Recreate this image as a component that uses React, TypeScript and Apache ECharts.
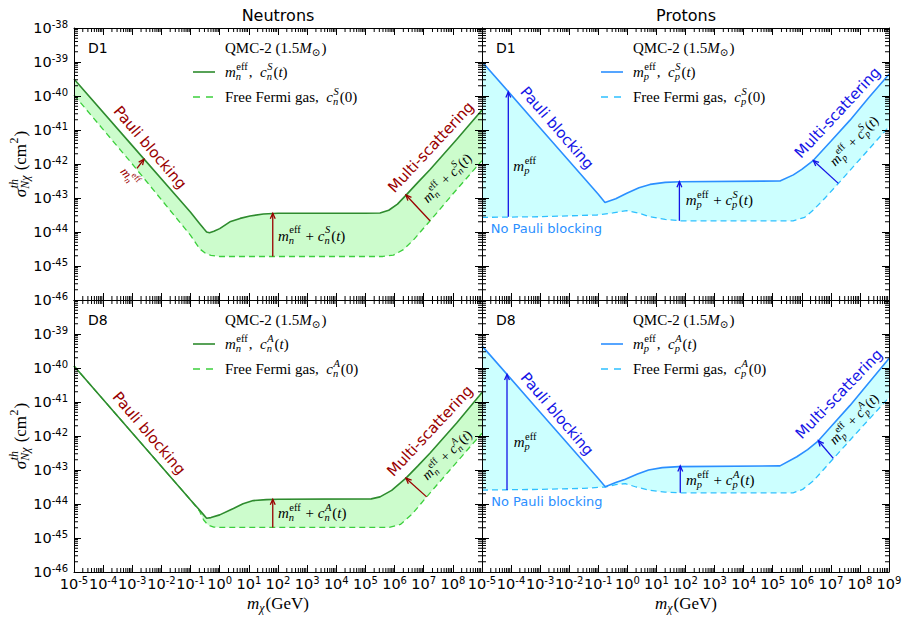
import React, { useEffect, useRef } from 'react';
import * as echarts from 'echarts';

// ---------- axes ----------
// x: log axis in GeV; y: value axis holding log10(sigma / cm^2)
const X_RANGE = [1e-5, 1e9];
const Y_EXP_RANGE = [-46, -38];
const X_DECADES = [-5, -4, -3, -2, -1, 0, 1, 2, 3, 4, 5, 6, 7, 8, 9];
const Y_DECADES = [-46, -45, -44, -43, -42, -41, -40, -39, -38];
const MINOR_MULT = [2, 3, 4, 5, 6, 7, 8, 9];

// ---------- curves: [log10 m_chi (GeV), log10 sigma (cm^2)] ----------
const N_D1_EFF = [[-5, -39.5], [-3, -41.46], [-1, -43.42], [-0.7, -43.74], [-0.55, -43.9], [-0.45, -44.0], [-0.35, -44.02], [-0.2, -43.98], [0, -43.9], [0.35, -43.7], [0.7, -43.6], [1.04, -43.53], [1.5, -43.47], [2, -43.45], [5, -43.45], [5.5, -43.44], [5.8, -43.36], [6.1, -43.18], [6.41, -42.9], [6.8, -42.54], [7.22, -42.16], [8.13, -41.28], [9, -40.41]];
const N_D1_FFG = [[-5, -39.97], [-3, -42.0], [-1, -44.1], [-0.68, -44.5], [-0.5, -44.62], [-0.3, -44.69], [0, -44.72], [5.6, -44.72], [5.96, -44.68], [6.3, -44.52], [6.64, -44.24], [7.22, -43.67], [8.02, -42.86], [9, -41.9]];
const N_D8_EFF = [[-5, -39.94], [-3, -41.91], [-1, -43.88], [-0.7, -44.17], [-0.55, -44.32], [-0.45, -44.42], [-0.3, -44.4], [0, -44.32], [0.47, -44.13], [0.8, -43.99], [1.15, -43.9], [1.6, -43.87], [2, -43.86], [5.2, -43.85], [5.5, -43.79], [5.9, -43.6], [6.39, -43.24], [6.8, -42.88], [7.22, -42.5], [8.13, -41.62], [9, -40.72]];
const N_D8_FFG = [[-5, -39.94], [-3, -41.91], [-1, -43.88], [-0.7, -44.2], [-0.55, -44.47], [-0.4, -44.62], [-0.2, -44.68], [0, -44.69], [5.8, -44.69], [6.2, -44.6], [6.6, -44.3], [7.1, -43.79], [7.9, -43.0], [8.7, -42.21], [9, -41.92]];
const P_D1_EFF = [[-5, -38.99], [-3, -40.94], [-1, -42.89], [-0.77, -43.13], [-0.4, -43.02], [-0.02, -42.86], [0.4, -42.7], [0.78, -42.6], [1.3, -42.54], [1.81, -42.52], [5.25, -42.5], [5.71, -42.32], [6.0, -42.16], [6.4, -41.89], [7.0, -41.33], [7.66, -40.71], [8.3, -40.05], [9, -39.36]];
const P_D1_FFG = [[-5, -43.57], [-3, -43.55], [-1.05, -43.5], [-0.5, -43.44], [-0.02, -43.37], [0.4, -43.45], [0.78, -43.55], [1.3, -43.63], [1.81, -43.67], [5.7, -43.67], [6.1, -43.57], [6.4, -43.35], [6.8, -43.0], [7.26, -42.57], [8, -41.86], [9, -40.9]];
const P_D8_EFF = [[-5, -39.35], [-3, -41.3], [-1, -43.25], [-0.76, -43.49], [-0.4, -43.37], [-0.07, -43.27], [0.35, -43.12], [0.73, -43.0], [1.2, -42.93], [1.77, -42.9], [5.25, -42.88], [5.83, -42.61], [6.2, -42.4], [6.57, -42.14], [7.0, -41.73], [7.66, -41.1], [8.3, -40.44], [9, -39.72]];
const P_D8_FFG = [[-5, -43.59], [-3, -43.57], [-1.5, -43.54], [-0.76, -43.5], [-0.4, -43.43], [-0.07, -43.4], [0.3, -43.5], [0.8, -43.6], [1.3, -43.65], [1.77, -43.67], [5.7, -43.67], [6.03, -43.57], [6.4, -43.32], [7.09, -42.66], [8, -41.8], [9, -40.87]];

// ---------- arrows: [log10 m1, log10 s1, log10 m2, log10 s2] (tail -> head) ----------
const N_D1_ARROWS = [[-2.84, -42.13, -2.6, -41.86], [1.82, -44.72, 1.82, -43.45], [7.216, -43.67, 6.39, -42.91]];
const N_D8_ARROWS = [[1.82, -44.69, 1.82, -43.86], [7.1, -43.79, 6.39, -43.24]];
const P_D1_ARROWS = [[-4.095, -43.55, -4.095, -39.88], [1.79, -43.67, 1.79, -42.52], [7.257, -42.57, 6.397, -41.9]];
const P_D8_ARROWS = [[-4.14, -43.59, -4.14, -40.19], [1.82, -43.67, 1.82, -42.88], [7.085, -42.66, 6.57, -42.14]];

// ---------- styles ----------
const SERIF = '"Liberation Serif", "DejaVu Serif", serif';
const SANS = '"DejaVu Sans", sans-serif';
const N_COL = { solid: '#2e8b2e', dash: '#3ccf3c', fill: '#ccfccc', note: '#990000' };
const P_COL = { solid: '#2b8fff', dash: '#2ec0ff', fill: '#ccffff', note: '#1414e6', noPauli: '#2b8fff' };
const ZG = 50;

type Tok = { t?: string; it?: boolean; sup?: string; sub?: string; supIt?: boolean; subIt?: boolean };

let mctx: CanvasRenderingContext2D | null = null;
function tw(s: string, size: number, it: boolean, fam: string) {
  if (!mctx) mctx = document.createElement('canvas').getContext('2d');
  mctx!.font = `${it ? 'italic ' : ''}${size}px ${fam}`;
  return mctx!.measureText(s).width;
}
function txt(s: string, x: number, y: number, size: number, it: boolean, color: string, fam: string) {
  return {
    type: 'text', x, y, z: ZG, silent: true,
    style: { text: s, fontSize: size, fontFamily: fam, fontStyle: it ? 'italic' : 'normal', fill: color, align: 'left', verticalAlign: 'middle' },
  };
}
function mathGroup(toks: Tok[], fs: number, color: string, x: number, y: number, center = false, rot = 0) {
  const ss = fs * 0.7;
  let cx = 0;
  const ch: any[] = [];
  for (const k of toks) {
    if (k.t !== undefined) {
      ch.push(txt(k.t, cx, 0, fs, !!k.it, color, SERIF));
      cx += tw(k.t, fs, !!k.it, SERIF);
    } else {
      let w = 0;
      if (k.sup) {
        ch.push(txt(k.sup, cx + 0.5, -0.37 * fs, ss, !!k.supIt, color, SERIF));
        w = Math.max(w, tw(k.sup, ss, !!k.supIt, SERIF) + 0.5);
      }
      if (k.sub) {
        ch.push(txt(k.sub, cx, 0.3 * fs, ss, !!k.subIt, color, SERIF));
        w = Math.max(w, tw(k.sub, ss, !!k.subIt, SERIF));
      }
      cx += w + 1;
    }
  }
  return {
    type: 'group', x, y, z: ZG, rotation: (rot * Math.PI) / 180, silent: true,
    children: [{ type: 'group', x: center ? -cx / 2 : 0, z: ZG, children: ch }],
  };
}
function sans(s: string, x: number, y: number, size: number, color: string, rot = 0, align = 'center') {
  return {
    type: 'text', x, y, z: ZG, rotation: (rot * Math.PI) / 180, silent: true,
    style: { text: s, fontSize: size, fontFamily: SANS, fill: color, align, verticalAlign: 'middle' },
  };
}

const effOnly = (s: string): Tok[] => [{ t: 'm', it: true }, { sup: 'eff', sub: s, subIt: true }];
const effPlus = (s: string, c: string): Tok[] => [
  { t: 'm', it: true }, { sup: 'eff', sub: s, subIt: true }, { t: ' + ' }, { t: 'c', it: true },
  { sup: c, sub: s, supIt: true, subIt: true }, { t: '(' }, { t: 't', it: true }, { t: ')' },
];
const legendEff = (s: string, c: string): Tok[] => [
  { t: 'm', it: true }, { sup: 'eff', sub: s, subIt: true }, { t: ',  ' }, { t: 'c', it: true },
  { sup: c, sub: s, supIt: true, subIt: true }, { t: '(' }, { t: 't', it: true }, { t: ')' },
];
const legendFfg = (s: string, c: string): Tok[] => [
  { t: 'Free Fermi gas,  ' }, { t: 'c', it: true }, { sup: c, sub: s, supIt: true, subIt: true }, { t: '(0)' },
];
const QMC: Tok[] = [{ t: 'QMC-2 (1.5' }, { t: 'M', it: true }, { sub: '\u2299' }, { t: ')' }];
const X_TITLE: Tok[] = [{ t: 'm', it: true }, { sub: '\u03c7', subIt: true }, { t: '(GeV)' }];
const Y_TITLE: Tok[] = [{ t: '\u03c3', it: true }, { sup: 'th', sub: 'N\u03c7', supIt: true, subIt: true }, { t: ' (cm' }, { sup: '2' }, { t: ')' }];

const X_MAJOR = X_DECADES.map((d) => Math.pow(10, d));
const X_MINOR = X_DECADES.slice(0, -1).flatMap((d) => MINOR_MULT.map((k) => k * Math.pow(10, d)));
const Y_MINOR = Y_DECADES.slice(0, -1).flatMap((d) => MINOR_MULT.map((k) => d + Math.log10(k)));

// a curve point: mass on the log x axis, log10(sigma) on the value y axis
const toPt = (p: number[]) => [Math.pow(10, p[0]), p[1]];

const PANELS = [
  { tag: 'D1', sp: 'n', ff: 'S', col: N_COL, grid: { left: 74, top: 28, width: 408, height: 272 }, solid: N_D1_EFF, dash: N_D1_FFG, arrows: N_D1_ARROWS, xLabels: [] as number[], yLabels: true, yMaxLabel: true },
  { tag: 'D1', sp: 'p', ff: 'S', col: P_COL, grid: { left: 482, top: 28, width: 407, height: 272 }, solid: P_D1_EFF, dash: P_D1_FFG, arrows: P_D1_ARROWS, xLabels: [] as number[], yLabels: false, yMaxLabel: false },
  { tag: 'D8', sp: 'n', ff: 'A', col: N_COL, grid: { left: 74, top: 300, width: 408, height: 272 }, solid: N_D8_EFF, dash: N_D8_FFG, arrows: N_D8_ARROWS, xLabels: X_MAJOR.slice(0, -1), yLabels: true, yMaxLabel: false },
  { tag: 'D8', sp: 'p', ff: 'A', col: P_COL, grid: { left: 482, top: 300, width: 407, height: 272 }, solid: P_D8_EFF, dash: P_D8_FFG, arrows: P_D8_ARROWS, xLabels: X_MAJOR, yLabels: false, yMaxLabel: false },
];

function notes(): any[] {
  const n = N_COL, p = P_COL;
  return [
    // top-left (neutrons D1)
    sans('Pauli blocking', 150, 147.5, 15, n.note, -49.5),
    mathGroup(effOnly('n'), 13, n.note, 130, 177, true, -49),
    mathGroup(effPlus('n', 'S'), 15, '#000', 278, 235.5),
    sans('Multi-scattering', 431, 147, 15, n.note, 47),
    mathGroup(effPlus('n', 'S'), 14, '#000', 447, 178, true, 45),
    // bottom-left (neutrons D8)
    sans('Pauli blocking', 149, 433.3, 15, n.note, -49.5),
    mathGroup(effPlus('n', 'A'), 15, '#000', 278, 513.3),
    sans('Multi-scattering', 430, 430.8, 15, n.note, 47),
    mathGroup(effPlus('n', 'A'), 14, '#000', 447, 455, true, 45),
    // top-right (protons D1)
    sans('Pauli blocking', 557, 128, 15, p.note, -49),
    mathGroup(effOnly('p'), 15, '#000', 513.3, 166),
    sans('No Pauli blocking', 490.7, 228.3, 13, p.noPauli, 0, 'left'),
    mathGroup(effPlus('p', 'S'), 15, '#000', 685.7, 200),
    sans('Multi-scattering', 837.5, 112.5, 15, p.note, 47),
    mathGroup(effPlus('p', 'S'), 14, '#000', 854, 141, true, 46),
    // bottom-right (protons D8)
    sans('Pauli blocking', 557, 414, 15, p.note, -49.5),
    mathGroup(effOnly('p'), 15, '#000', 513.7, 442),
    sans('No Pauli blocking', 491.3, 501, 13, p.noPauli, 0, 'left'),
    mathGroup(effPlus('p', 'A'), 15, '#000', 686, 480),
    sans('Multi-scattering', 839, 394, 15, p.note, 46),
    mathGroup(effPlus('p', 'A'), 14, '#000', 854, 419, true, 46),
  ];
}

function buildOption() {
  const fmtLogX = (v: number) => `{b|10}{s|${Math.round(Math.log10(v))}}`;
  const fmtExpY = (v: number) => `{b|10}{s|${Math.round(v)}}`;
  const rich = {
    b: { fontSize: 14.5, fontFamily: SANS, color: '#000', lineHeight: 18 },
    s: { fontSize: 10, fontFamily: SANS, color: '#000', lineHeight: 8, verticalAlign: 'top' },
  };
  const black = { color: '#000', width: 1 };
  const grids: any[] = [];
  const xAxes: any[] = [];
  const yAxes: any[] = [];
  const series: any[] = [];
  const graphics: any[] = [];

  PANELS.forEach((P, i) => {
    grids.push({ ...P.grid, containLabel: false, outerBoundsMode: 'none', show: false });
    const common = { gridIndex: i, z: 4, splitLine: { show: false }, minorTick: { show: false }, minorSplitLine: { show: false } };
    xAxes.push({
      ...common, type: 'log', logBase: 10, min: X_RANGE[0], max: X_RANGE[1], position: 'bottom',
      axisLine: { show: true, onZero: false, lineStyle: black },
      axisTick: { show: true, inside: true, length: 7, customValues: X_MAJOR, lineStyle: black },
      axisLabel: { show: P.xLabels.length > 0, customValues: P.xLabels.length ? P.xLabels : X_MAJOR, interval: 0, formatter: fmtLogX, margin: 3, rich },
    });
    xAxes.push({
      ...common, type: 'log', logBase: 10, min: X_RANGE[0], max: X_RANGE[1], position: 'top',
      axisLine: { show: true, onZero: false, lineStyle: black },
      axisTick: { show: true, inside: true, length: 7, customValues: X_MAJOR, lineStyle: black },
      axisLabel: { show: false },
    });
    yAxes.push({
      ...common, type: 'value', min: Y_EXP_RANGE[0], max: Y_EXP_RANGE[1], interval: 1, position: 'left',
      axisLine: { show: true, onZero: false, lineStyle: black },
      axisTick: { show: true, inside: true, length: 7, lineStyle: black },
      axisLabel: { show: P.yLabels, showMaxLabel: P.yMaxLabel, showMinLabel: true, interval: 0, formatter: fmtExpY, margin: 6, rich },
    });
    yAxes.push({
      ...common, type: 'value', min: Y_EXP_RANGE[0], max: Y_EXP_RANGE[1], interval: 1, position: 'right',
      axisLine: { show: true, onZero: false, lineStyle: black },
      axisTick: { show: true, inside: true, length: 7, lineStyle: black },
      axisLabel: { show: false },
    });

    const ax = { xAxisIndex: 2 * i, yAxisIndex: 2 * i };
    const solidPts = P.solid.map(toPt);
    const dashPts = P.dash.map(toPt);

    // band between the two curves
    series.push({
      type: 'custom', ...ax, z: 1, silent: true, data: [[1, -42]],
      renderItem: (_params: any, api: any) => ({
        type: 'polygon',
        shape: { points: [...solidPts.map((q) => api.coord(q)), ...dashPts.slice().reverse().map((q) => api.coord(q))] },
        style: { fill: P.col.fill, stroke: 'none' },
      }),
    });
    series.push({
      type: 'line', ...ax, z: 2, silent: true, symbol: 'none', showSymbol: false, data: dashPts,
      lineStyle: { color: P.col.dash, width: 1.3, type: [6, 4] },
    });
    series.push({
      type: 'line', ...ax, z: 2, silent: true, symbol: 'none', showSymbol: false, data: solidPts,
      lineStyle: { color: P.col.solid, width: 1.6 },
    });
    // arrows
    const arrowColor = P.col.note;
    series.push({
      type: 'custom', ...ax, z: 3, silent: true,
      data: P.arrows.map((a) => [Math.pow(10, a[0]), a[1], Math.pow(10, a[2]), a[3]]),
      encode: { x: [0, 2], y: [1, 3] },
      renderItem: (_params: any, api: any) => {
        const a = api.coord([api.value(0), api.value(1)]);
        const b = api.coord([api.value(2), api.value(3)]);
        const ang = Math.atan2(b[1] - a[1], b[0] - a[0]);
        const hl = 6, hw = 0.42;
        const h1 = [b[0] - hl * Math.cos(ang - hw), b[1] - hl * Math.sin(ang - hw)];
        const h2 = [b[0] - hl * Math.cos(ang + hw), b[1] - hl * Math.sin(ang + hw)];
        return {
          type: 'group',
          children: [
            { type: 'line', shape: { x1: a[0], y1: a[1], x2: b[0], y2: b[1] }, style: { stroke: arrowColor, lineWidth: 1.3 } },
            { type: 'polyline', shape: { points: [h1, b, h2] }, style: { stroke: arrowColor, lineWidth: 1.3, fill: 'none' } },
          ],
        };
      },
    });
    // minor ticks (log positions 2..9 in each decade), on all four sides
    const minorData = [...X_MINOR.map((v) => [v, -42, 0]), ...Y_MINOR.map((v) => [1, v, 1])];
    series.push({
      type: 'custom', ...ax, z: 6, silent: true, data: minorData,
      renderItem: (params: any, api: any) => {
        const cs = params.coordSys;
        const st = { stroke: '#000', lineWidth: 1 };
        if (api.value(2) === 0) {
          const px = api.coord([api.value(0), -42])[0];
          const yb = cs.y + cs.height, yt = cs.y;
          return {
            type: 'group', children: [
              { type: 'line', shape: { x1: px, y1: yb, x2: px, y2: yb - 4 }, style: st },
              { type: 'line', shape: { x1: px, y1: yt, x2: px, y2: yt + 4 }, style: st },
            ],
          };
        }
        const py = api.coord([1, api.value(1)])[1];
        const xl = cs.x, xr = cs.x + cs.width;
        return {
          type: 'group', children: [
            { type: 'line', shape: { x1: xl, y1: py, x2: xl + 4, y2: py }, style: st },
            { type: 'line', shape: { x1: xr, y1: py, x2: xr - 4, y2: py }, style: st },
          ],
        };
      },
    });

    // legend + panel tag
    const gx = P.grid.left, gy = P.grid.top;
    graphics.push(sans(P.tag, gx + 14, gy + 20, 14, '#000', 0, 'left'));
    graphics.push(mathGroup(QMC, 15, '#000', gx + 151, gy + 20));
    graphics.push({ type: 'line', z: ZG, silent: true, shape: { x1: gx + 119, y1: gy + 44, x2: gx + 141, y2: gy + 44 }, style: { stroke: P.col.solid, lineWidth: 1.6 } });
    graphics.push(mathGroup(legendEff(P.sp, P.ff), 15, '#000', gx + 151, gy + 44));
    graphics.push({ type: 'line', z: ZG, silent: true, shape: { x1: gx + 119, y1: gy + 69, x2: gx + 141, y2: gy + 69 }, style: { stroke: P.col.dash, lineWidth: 1.3, lineDash: [7, 6] } });
    graphics.push(mathGroup(legendFfg(P.sp, P.ff), 15, '#000', gx + 151, gy + 69));
  });

  // titles and axis names
  graphics.push(sans('Neutrons', 278, 15, 16, '#000'));
  graphics.push(sans('Protons', 686, 15, 16, '#000'));
  graphics.push(mathGroup(X_TITLE, 17, '#000', 278, 603, true));
  graphics.push(mathGroup(X_TITLE, 17, '#000', 686, 603, true));
  graphics.push(mathGroup(Y_TITLE, 17, '#000', 20, 164, true, 90));
  graphics.push(mathGroup(Y_TITLE, 17, '#000', 20, 436, true, 90));
  graphics.push(...notes());

  return {
    animation: false,
    backgroundColor: '#ffffff',
    grid: grids,
    xAxis: xAxes,
    yAxis: yAxes,
    series,
    graphic: { elements: graphics },
  };
}

export default function App() {
  const ref = useRef<HTMLDivElement>(null);
  useEffect(() => {
    if (!ref.current) return;
    const chart = echarts.init(ref.current, undefined, { renderer: 'svg' });
    chart.setOption(buildOption() as any);
    return () => chart.dispose();
  }, []);
  return <div ref={ref} style={{ position: 'absolute', left: 0, top: 0, width: 910, height: 622, background: '#fff' }} />;
}
